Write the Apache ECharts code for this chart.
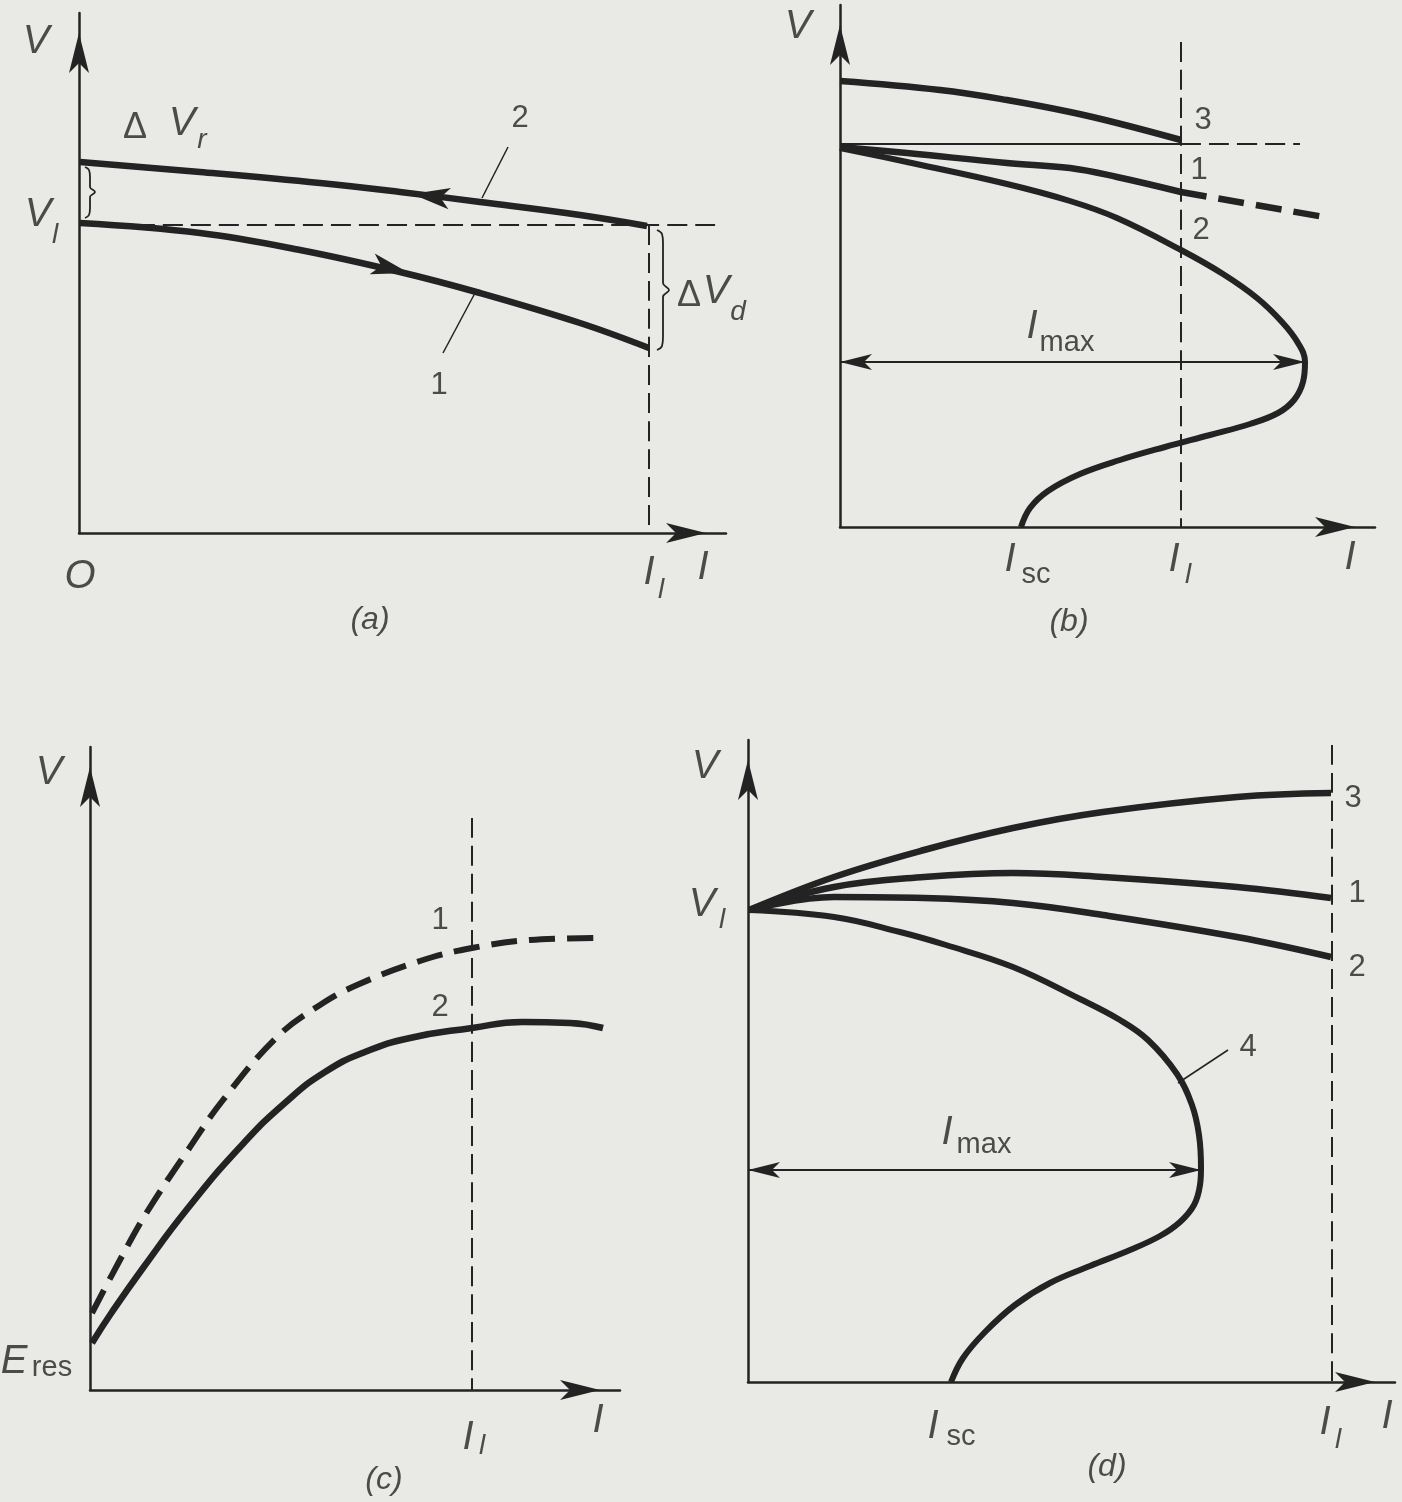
<!DOCTYPE html>
<html>
<head>
<meta charset="utf-8">
<title>Generator external characteristics</title>
<script src="https://cdn.jsdelivr.net/npm/echarts@6/dist/echarts.min.js"></script>
<style>
  html, body { margin: 0; padding: 0; background: #e9e9e6; }
  #chart { width: 1402px; height: 1502px; }
</style>
</head>
<body>
<div id="chart"></div>
<script>
// every panel uses its own units, origin at the corner of its axes, y upwards

// (a) separately excited generator
const aCurve1 = [[1,310],[121,300],[221,283],[321,261],[401,240],[501,210],[570,185]];
const aCurve2 = [[1,371],[121,361],[241,350],[321,341],[401,331],[501,318],[568,307]];
const aRated = [[0,308],[641,308]];
const aLoad = [[570,308],[570,0]];
const aLeader1 = [[364,180],[396,240]];
const aLeader2 = [[429,386],[403,335]];
const aBraceR = [[6,366],[10,363],[11,356],[11,346],[16,341],[11,336],[11,325],[10,318],[6,315]];
const aBraceD = [[578,303],[583,299],[584,290],[584,250],[590,243],[584,236],[584,196],[583,187],[578,183]];
const aArrows = [[333,339,83],[330,260,-104]];   // x, y, direction
const aLabels = [
  [-43,491,'V','main'], [-41,318,'V','main'], [-24,298,'l','sub'],
  [56,405,'Δ','delta'], [103,409,'V','main'], [123,393,'r','sub'],
  [441,415,'2','num'], [360,148,'1','num'],
  [610,237,'Δ','delta'], [637,241,'V','main'], [659,221,'d','sub'],
  [1,-44,'O','main'], [570,-40,'I','main'], [582,-57,'l','sub'], [624,-35,'I','main'],
  [291,-87,'(a)','cap']
];

// (b) shunt generator
const bCurve3 = [[0,446],[100,437],[167,427],[230,415],[277,404],[341,387]];
const bCurve1 = [[0,380],[67,374],[167,364],[230,359],[277,350],[341,335]];
const bCurve1Ext = [[341,335],[490,309]];
const bCurve2 = [[0,379],[67,365],[167,343],[230,326],[277,309],[341,277],[383,253],[417,229],
  [442,205],[458,184],[465,165],[463,145],[454,127],[438,114],[410,103],[370,92],[325,80],
  [280,67],[240,53],[208,36],[190,19],[181,0]];
const bRated = [[0,383],[341,383]];
const bRatedExt = [[341,383],[460,383]];
const bLoad = [[341,485],[341,0]];
const bImax = [[0,165],[465,165]];
const bLabels = [
  [-42,500,'V','main'],
  [363,407,'3','num'], [359,357,'1','num'], [361,297,'2','num'],
  [192,200,'I','main'], [227,184,'max','subr'],
  [170,-33,'I','main'], [196,-48,'sc','subr'],
  [334,-33,'I','main'], [348,-48,'l','sub'], [510,-31,'I','main'],
  [229,-95,'(b)','cap']
];

// (c) self-excitation
const cCurve1 = [[2,77],[31,132],[57,178],[98,240],[133,290],[187,353],[230,385],[267,405],
  [330,429],[382,442],[440,450],[508,452]];
const cCurve2 = [[2,47],[22,78],[53,122],[98,182],[151,244],[196,288],[235,318],[275,338],
  [320,352],[382,362],[432,368],[480,367],[513,362]];
const cLoad = [[382,572],[382,0]];
const cLabels = [
  [-41,617,'V','main'], [350,470,'1','num'], [350,383,'2','num'],
  [-76,28,'E','main'], [-38,22,'res','subr'],
  [378,-48,'I','main'], [392,-56,'l','sub'], [508,-31,'I','main'],
  [294,-90,'(c)','cap']
];

// (d) compound generators
const dCurve3 = [[1,472],[86,505],[176,532],[265,554],[355,570],[489,585],[583,589]];
const dCurve1 = [[1,472],[86,495],[176,505],[265,509],[355,505],[489,495],[583,484]];
const dCurve2 = [[1,472],[86,485],[176,484],[265,479],[355,467],[489,445],[583,425]];
const dCurve4 = [[1,472],[86,465],[152,450],[198,437],[265,415],[332,383],[372,362],[400,342],
  [429,308],[444,277],[451,247],[453,214],[452,197],[446,177],[432,160],[412,146],[382,132],
  [342,116],[302,99],[267,77],[237,50],[215,24],[203,0]];
const dLoad = [[584,637],[584,0]];
const dImax = [[0,212],[453,212]];
const dLeader4 = [[430,299],[480,332]];
const dLabels = [
  [-43,615,'V','main'], [-46,477,'V','main'], [-26,462,'l','sub'],
  [605,584,'3','num'], [609,489,'1','num'], [609,415,'2','num'], [500,335,'4','num'],
  [199,249,'I','main'], [236,237,'max','subr'],
  [185,-45,'I','main'], [213,-55,'sc','subr'],
  [577,-41,'I','main'], [590,-58,'l','sub'], [639,-35,'I','main'],
  [359,-85,'(d)','cap']
];

const INK = '#232323';
const FONT = '"Liberation Sans", Arial, sans-serif';
const TEXT = {
  main:  { fontSize: 40, fontStyle: 'italic' },
  sub:   { fontSize: 28, fontStyle: 'italic' },
  subr:  { fontSize: 29 },
  num:   { fontSize: 31 },
  delta: { fontSize: 36 },
  cap:   { fontSize: 32, fontStyle: 'italic' }
};

const grids = [
  { left: 79,  top: 13,  width: 647, height: 520 },
  { left: 840, top: 5,   width: 535, height: 522 },
  { left: 90,  top: 747, width: 530, height: 643 },
  { left: 748, top: 740, width: 647, height: 642 }
];

function axis(gi, max) {
  return {
    type: 'value', gridIndex: gi, min: 0, max: max,
    axisLine: {
      show: true, onZero: false,
      symbol: ['none', 'arrow'], symbolSize: [15, 40], symbolOffset: [0, -20],
      lineStyle: { color: INK, width: 2.5 }
    },
    axisTick: { show: false }, axisLabel: { show: false }, splitLine: { show: false }
  };
}

function line(gi, data, width, type, extra) {
  return Object.assign({
    type: 'line', xAxisIndex: gi, yAxisIndex: gi, data: data,
    symbol: 'none', smooth: 0.4, clip: false, silent: true, z: 3,
    lineStyle: { color: INK, width: width, type: type || 'solid', cap: 'butt' }
  }, extra || {});
}

function labels(gi, items) {
  return {
    type: 'scatter', xAxisIndex: gi, yAxisIndex: gi, clip: false, silent: true,
    symbolSize: 1, itemStyle: { color: 'rgba(0,0,0,0)' }, z: 5,
    data: items.map(([x, y, text, kind]) => ({
      value: [x, y],
      label: Object.assign({ show: true, position: 'inside', formatter: text,
        color: INK, fontFamily: FONT }, TEXT[kind])
    }))
  };
}

function imax(pts) {
  return {
    silent: true, symbol: ['arrow', 'arrow'], symbolSize: [12, 32],
    lineStyle: { color: INK, width: 2, type: 'solid' }, label: { show: false },
    data: [[{ coord: pts[0] }, { coord: pts[1] }]]
  };
}

const thinDash = [20, 8];
const thickDash = [26, 12];

const series = [
  // (a)
  line(0, aRated, 2, thinDash),
  line(0, aLoad, 2, thinDash),
  line(0, aCurve1, 6.5, 'solid', {
    markPoint: {
      silent: true, symbol: 'arrow', symbolSize: [16, 38], itemStyle: { color: INK },
      label: { show: false },
      data: aArrows.map(([x, y, r]) => ({ coord: [x, y], symbolRotate: r }))
    }
  }),
  line(0, aCurve2, 6.5),
  line(0, aLeader1, 1.5),
  line(0, aLeader2, 1.5),
  line(0, aBraceR, 1.8, 'solid', { smooth: 0.4 }),
  line(0, aBraceD, 1.8, 'solid', { smooth: 0.4 }),
  labels(0, aLabels),
  // (b)
  line(1, bLoad, 2, thinDash),
  line(1, bRated, 2),
  line(1, bRatedExt, 2, thinDash),
  line(1, bCurve3, 6.5),
  line(1, bCurve1, 6.5),
  line(1, bCurve1Ext, 6.5, thickDash),
  line(1, bCurve2, 6, 'solid', { markLine: imax(bImax) }),
  labels(1, bLabels),
  // (c)
  line(2, cLoad, 2, thinDash),
  line(2, cCurve1, 6, thickDash),
  line(2, cCurve2, 6.5, 'solid', { smooth: 0.5 }),
  labels(2, cLabels),
  // (d)
  line(3, dLoad, 2, thinDash),
  line(3, dCurve3, 6.5),
  line(3, dCurve1, 6.5),
  line(3, dCurve2, 6.5),
  line(3, dCurve4, 6, 'solid', { markLine: imax(dImax) }),
  line(3, dLeader4, 1.5),
  labels(3, dLabels)
];

const chart = echarts.init(document.getElementById('chart'));
chart.setOption({
  backgroundColor: '#e9e9e6',
  animation: false,
  grid: grids,
  xAxis: grids.map((g, i) => Object.assign(axis(i, g.width), { position: 'bottom' })),
  yAxis: grids.map((g, i) => Object.assign(axis(i, g.height), { position: 'left' })),
  series: series
});
</script>
</body>
</html>
